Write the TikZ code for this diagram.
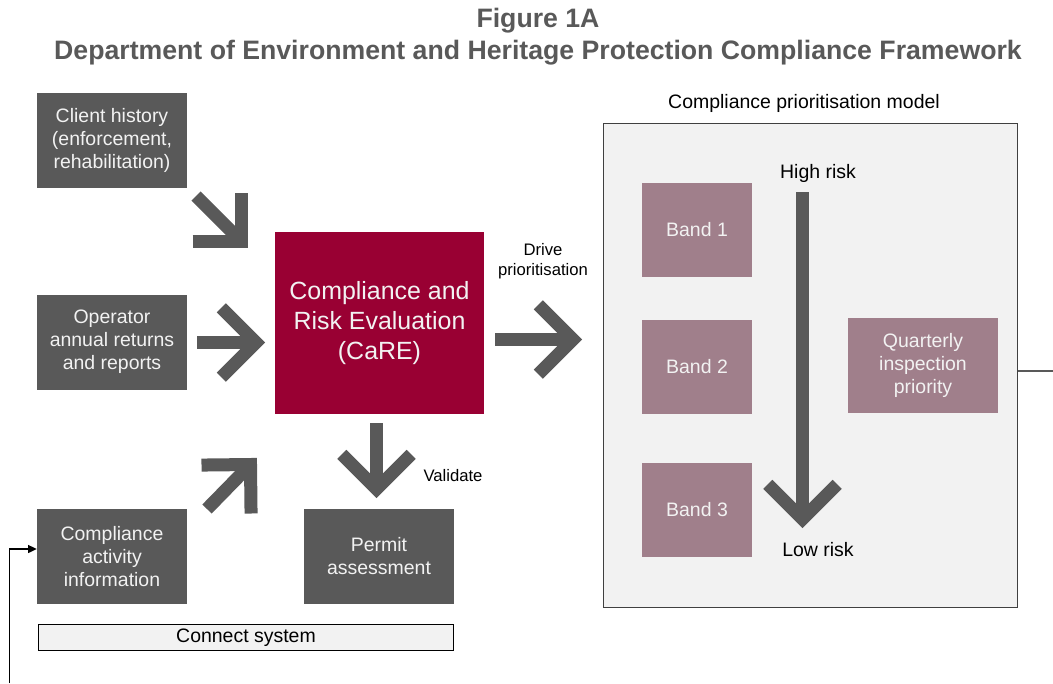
\documentclass[tikz,border=0pt]{standalone}
\usepackage{fontspec}
\setmainfont{Liberation Sans}
\usepackage{tikz}
\usetikzlibrary{arrows.meta, positioning, calc}
\definecolor{boxgrey}{HTML}{595959}
\definecolor{carered}{HTML}{990033}
\definecolor{bandmauve}{HTML}{A07F8B}
\definecolor{panelgrey}{HTML}{F2F2F2}

% thick chevron arrow: shaft from #1, head joined at #2
\newcommand{\fatarrow}[2]{%
  \draw[fat] (#1) -- (#2);
  \draw[fat] ($(#2)!36.75pt!45:(#1)$) -- (#2) -- ($(#2)!36.75pt!-45:(#1)$);
}

\begin{document}
\begin{tikzpicture}[x=0.75pt, y=-0.75pt,
  input/.style={rectangle, fill=boxgrey, text=panelgrey, minimum width=112.5pt,
    minimum height=71.25pt, inner sep=2pt, align=center,
    font=\fontsize{14.6}{17.25}\selectfont},
  band/.style={rectangle, fill=bandmauve, text=panelgrey, minimum width=82.5pt,
    minimum height=70.5pt, inner sep=2pt, align=center,
    font=\fontsize{14.6}{17.25}\selectfont},
  note/.style={align=center, font=\fontsize{12.5}{15}\selectfont},
  plain/.style={align=center, font=\fontsize{14.6}{17.25}\selectfont},
  fat/.style={draw=boxgrey, line width=9.75pt},
  loop/.style={draw=black, line width=1pt},
]
  \useasboundingbox (0,0) rectangle (1053,683);

  \node[text=boxgrey, align=center, font=\bfseries\fontsize{20}{24}\selectfont] (title) at (538,36.5)
    {Figure 1A\\Department of Environment and Heritage Protection Compliance Framework};

  % inputs on the left
  \node[input] (client) at (112,140.5) {Client history\\(enforcement,\\rehabilitation)};
  \node[input] (operator) at (112,342) {Operator\\annual returns\\and reports};
  \node[input] (activity) at (112,556.5) {Compliance\\activity\\information};

  \node[rectangle, fill=carered, text=panelgrey, minimum width=156.75pt, minimum height=136.5pt,
    align=center, font=\fontsize{18.7}{22.5}\selectfont] (care) at (379.5,323)
    {Compliance and\\Risk Evaluation\\(CaRE)};
  \node[input] (permit) at (379,556.5) {Permit\\assessment};
  \node[plain, draw=black, line width=1pt, fill=panelgrey, minimum width=311pt,
    minimum height=19.5pt, inner sep=0pt] (connect) at (246,637.5) {Connect system};

  \node[note] (drive) at (543,261) {Drive\\prioritisation};
  \node[note] (validate) at (453,476) {Validate};

  % prioritisation model
  \node[draw=black!75, line width=1pt, fill=panelgrey, minimum width=310.5pt,
    minimum height=363pt] (model) at (810.5,365.5) {};
  \node[plain] (modeltitle) at (804,103.5) {Compliance prioritisation model};
  \node[band] (band1) at (697,230) {Band 1};
  \node[band] (band2) at (697,367) {Band 2};
  \node[band] (band3) at (697,510) {Band 3};
  \node[input, fill=bandmauve] (quarterly) at (923,365.5) {Quarterly\\inspection\\priority};
  \node[plain] (highrisk) at (818,173.5) {High risk};
  \node[plain] (lowrisk) at (818,549.5) {Low risk};

  % arrow ends
  \coordinate (c1) at (196,196);     \coordinate (c2) at (241.5,241.5);
  \coordinate (o1) at (197,342.5);   \coordinate (o2) at (256,342.5);
  \coordinate (a1) at (207,509);     \coordinate (a2) at (250.5,464.5);
  \coordinate (v1) at (376.5,423);   \coordinate (v2) at (376.5,489);
  \coordinate (d1) at (495,339.5);   \coordinate (d2) at (573,339.5);
  \coordinate (r1) at (802.5,192);   \coordinate (r2) at (802.5,519);

  \fatarrow{c1}{c2}
  \fatarrow{o1}{o2}
  \fatarrow{a1}{a2}
  \fatarrow{v1}{v2}
  \fatarrow{d1}{d2}
  \fatarrow{r1}{r2}

  % loop back to the compliance activity
  \coordinate (loopout) at (1053,371);
  \coordinate (loopin) at (9.5,683);
  \draw[loop, draw=boxgrey] (model.east |- loopout) -- (loopout);
  \draw[loop, -{Triangle[length=6.5pt, width=6pt]}] (loopin) |- ($(activity.west)+(0,-7.5)$);
\end{tikzpicture}
\end{document}
